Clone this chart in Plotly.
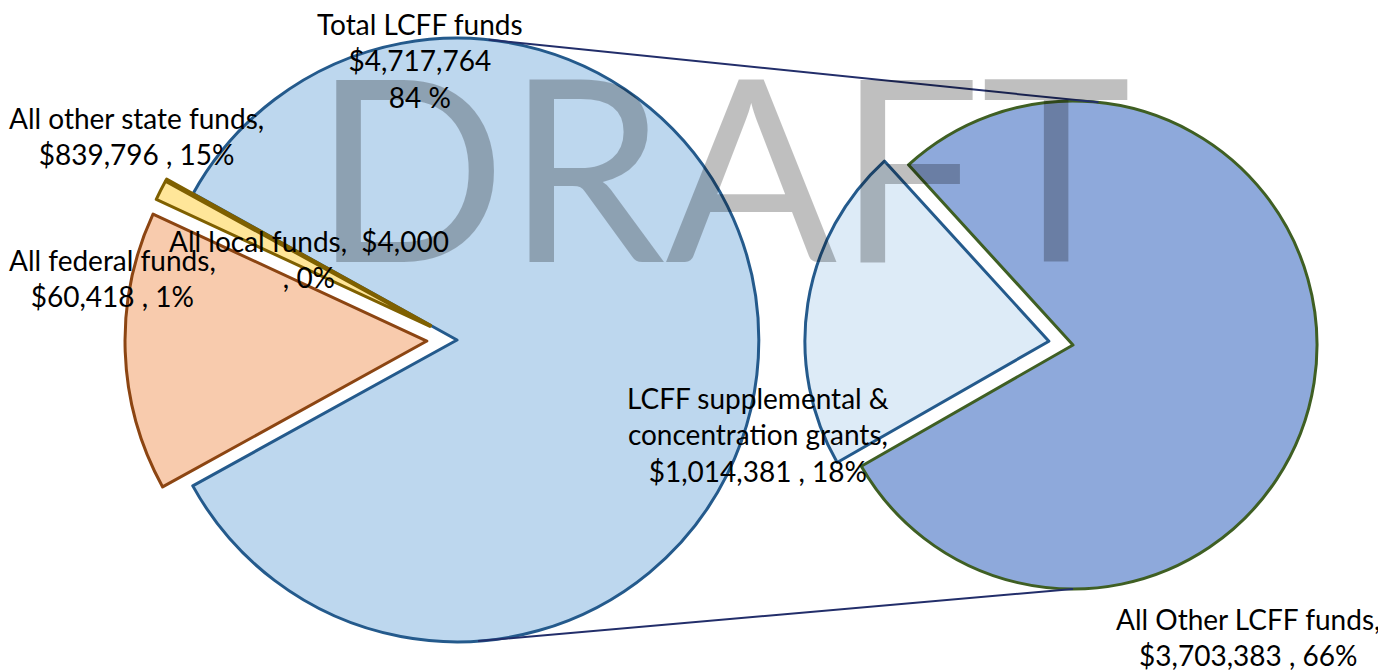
import math
import plotly.graph_objects as go

# The page body has an 8px margin, so the figure is sized to fit inside it.
OFF = 8
W, H = 1386 - OFF, 672 - OFF

# ---- data ----
left_labels = ["Total LCFF funds", "All other state funds", "All federal funds", "All local funds"]
left_values = [4717764, 839796, 60418, 4000]
right_labels = ["LCFF supplemental & concentration grants", "All Other LCFF funds"]
right_values = [1014381, 3703383]
watermark = "DRAFT"

total = sum(left_values)


def money(v):
    return "${:,}".format(v)


def pct(v):
    return round(100 * v / total)


# ---- style ----
FONT = "Lato"
left_colors = ["#BDD7EE", "#F8CBAD", "#FFE699", "#FFE699"]
left_lines = ["#245A8C", "#8C4512", "#7F6000", "#7F6000"]
right_colors = ["#DDEBF7", "#8EA9DB"]
right_lines = ["#245A8C", "#3F5F23"]
PULL = 0.1


def dom_for(cx, cy, r, pull):
    # cx, cy in screen pixels
    cx -= OFF
    cy -= OFF
    half = r * (1 + pull)
    x = [max(0, (cx - half) / W), min(1, (cx + half) / W)]
    y = [max(0, 1 - (cy + half) / H), min(1, 1 - (cy - half) / H)]
    return dict(x=x, y=y)


left_dom = dom_for(457, 340, 304, PULL)
left_dom["y"] = [0.0, 1.0]
right_dom = dom_for(1073, 345, 244, PULL)

fig = go.Figure()
fig.add_trace(go.Pie(
    labels=left_labels, values=left_values, sort=False, direction="clockwise",
    rotation=-61, pull=[0, PULL, PULL, PULL],
    marker=dict(colors=left_colors, line=dict(color=left_lines, width=3)),
    textinfo="none", domain=left_dom, showlegend=False,
))
fig.add_trace(go.Pie(
    labels=right_labels, values=right_values, sort=False, direction="clockwise",
    rotation=-119.8, pull=[PULL, 0],
    marker=dict(colors=right_colors, line=dict(color=right_lines, width=3)),
    textinfo="none", domain=right_dom, showlegend=False,
))


def geom(dom, pull):
    bw = W * (dom["x"][1] - dom["x"][0])
    bh = H * (dom["y"][1] - dom["y"][0])
    r = min(bw, bh) / 2 / (1 + pull)
    cx = W * (dom["x"][0] + dom["x"][1]) / 2
    cy = H * (1 - dom["y"][0]) - bh / 2
    return cx, cy, r


def on_circle(g, ang):
    cx, cy, r = g
    a = math.radians(ang)
    return (cx + r * math.cos(a)) / W, 1 - (cy - r * math.sin(a)) / H


gl = geom(left_dom, PULL)
gr = geom(right_dom, PULL)
shapes = []
for al, ar in [(84, 84), (-86, -90)]:
    x0, y0 = on_circle(gl, al)
    x1, y1 = on_circle(gr, ar)
    shapes.append(dict(type="line", xref="paper", yref="paper", x0=x0, y0=y0, x1=x1, y1=y1,
                       line=dict(color="#222E6A", width=2), layer="above"))


def px(x, y):
    return (x - OFF) / W, 1 - (y - OFF) / H


label_texts = [
    (f"{left_labels[0]}<br>{money(left_values[0])}<br>{pct(left_values[0])} %", 420, 61),
    (f"{left_labels[1]},<br>{money(left_values[1])} , {pct(left_values[1])}%", 136, 136),
    (f"{left_labels[2]},<br>{money(left_values[2])} , {pct(left_values[2])}%", 112, 278),
    (f"{left_labels[3]},  {money(left_values[3])}<br>, {pct(left_values[3])}%", 309, 259),
    (f"LCFF supplemental &<br>concentration grants,<br>{money(right_values[0])} , {pct(right_values[0])}%", 758, 434),
    (f"{right_labels[1]},<br>{money(right_values[1])} , {pct(right_values[1])}%", 1248, 637),
]
annotations = []
for t, x, y in label_texts:
    ax, ay = px(x, y)
    annotations.append(dict(text=t, x=ax, y=ay, xref="paper", yref="paper", showarrow=False,
                            xanchor="center", yanchor="middle", align="center",
                            font=dict(family=FONT, size=28, color="#000000")))
wx, wy = px(722, 163)
annotations.append(dict(text=watermark, x=wx, y=wy, xref="paper", yref="paper", showarrow=False,
                        xanchor="center", yanchor="middle",
                        font=dict(family=FONT, size=254, color="rgba(0,0,0,0.25)")))

fig.update_layout(
    width=W, height=H, margin=dict(l=0, r=0, t=0, b=0),
    paper_bgcolor="white", plot_bgcolor="white",
    shapes=shapes, annotations=annotations,
)
fig.write_html("out.html")
